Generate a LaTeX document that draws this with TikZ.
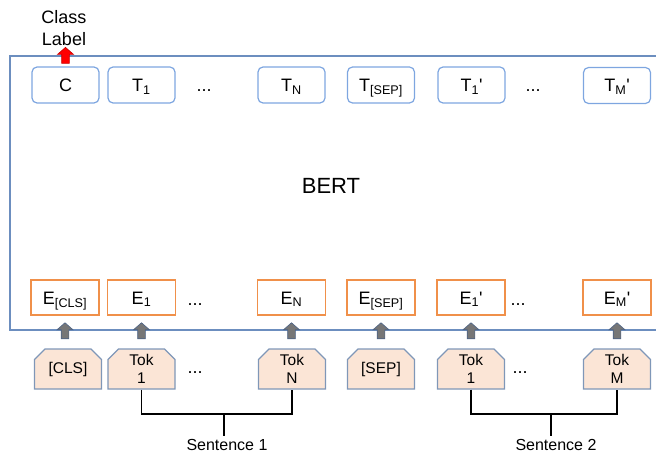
\documentclass[tikz,border=0pt]{standalone}
\usepackage{fontspec}
\setmainfont{Liberation Sans}
\usetikzlibrary{calc,shapes.misc}
\definecolor{frameblue}{HTML}{6C8EBF}
\definecolor{tblue}{HTML}{7EA6E0}
\definecolor{eorange}{HTML}{F0904A}
\definecolor{tokfill}{HTML}{FBE5D6}
\definecolor{tokdraw}{HTML}{7F97B8}
\definecolor{arrowgray}{HTML}{767676}
\definecolor{arrowred}{HTML}{FF0000}
% fat upward arrow whose tip is at #1
\newcommand\fatup[2]{\filldraw[#2] (#1) -- ++(8,7) -- ++(-4.2,0) -- ++(0,9) -- ++(-7.6,0) -- ++(0,-9) -- ++(-4.2,0) -- cycle;}
\begin{document}
\begin{tikzpicture}[x=1pt,y=-1pt,
  every node/.style={font=\fontsize{18}{21}\selectfont},
  tbox/.style={draw=tblue, line width=1.2pt, rounded corners=5pt, minimum width=67pt, minimum height=36pt, inner sep=0pt, text height=13pt, text depth=0pt},
  ebox/.style={draw=eorange, line width=1.5pt, minimum width=68pt, minimum height=35pt, inner sep=0pt, text height=13pt, text depth=0pt},
  tokbox/.style={chamfered rectangle, chamfered rectangle corners={north west,north east}, chamfered rectangle xsep=7pt, draw=tokdraw, fill=tokfill, line width=1.2pt, minimum width=67pt, minimum height=40pt, inner sep=0pt, align=center, font=\fontsize{15.5}{17.5}\selectfont},
  dots/.style={anchor=base, inner sep=0pt},
  grayarrow/.style={fill=arrowgray, draw=frameblue!70!black, line width=0.6pt},
  redarrow/.style={fill=arrowred, draw=arrowred!80!black, line width=0.6pt},
  bracket/.style={draw=black, line width=1.1pt},
  frame/.style={draw=frameblue, line width=1.6pt},
  sentence/.style={font=\fontsize{16}{19}\selectfont, inner sep=0pt}
]
\useasboundingbox (0,0) rectangle (656,457);
% BERT frame
\draw[frame] (656,56) -- (10,56) -- (10,330) -- (656,330);
\node (bert) at (331,186) {\fontsize{22}{26}\selectfont BERT};

% output row
\node[tbox] (c)    at (65.5,85) {C};
\node[tbox] (t1)   at (141.5,85) {T\textsubscript{1}};
\node[tbox] (tn)   at (291.5,85) {T\textsubscript{N}};
\node[tbox] (tsep) at (381,85) {T\textsubscript{[SEP]}};
\node[tbox] (t1p)  at (471.5,85) {T\textsubscript{1}\textquotesingle};
\node[tbox] (tmp)  at (617,85.5) {T\textsubscript{M}\textquotesingle};
\node[dots] (d1) at (204,92) {...};
\node[dots] (d2) at (533,92) {...};

% embedding row
\node[ebox] (ecls) at (65,297.5) {E\textsubscript{[CLS]}};
\node[ebox] (e1)   at (141.5,297.5) {E\textsubscript{1}};
\node[ebox] (en)   at (291.5,297.5) {E\textsubscript{N}};
\node[ebox] (esep) at (381,297.5) {E\textsubscript{[SEP]}};
\node[ebox] (e1p)  at (471,297.5) {E\textsubscript{1}\textquotesingle};
\node[ebox] (emp)  at (617,297.5) {E\textsubscript{M}\textquotesingle};
\node[dots] (d3) at (195,305) {...};
\node[dots] (d4) at (518,305) {...};

% token row
\node[tokbox] (kcls) at (68,369) {[CLS]};
\node[tokbox] (k1)   at (141.5,369) {Tok\\1};
\node[tokbox] (kn)   at (292,369) {Tok\\N};
\node[tokbox] (ksep) at (381,369) {[SEP]};
\node[tokbox] (k1p)  at (471,369) {Tok\\1};
\node[tokbox] (km)   at (617,369) {Tok\\M};
\node[dots] (d5) at (195,373) {...};
\node[dots] (d6) at (520,373) {...};

% gray arrows token -> embedding
\foreach \e in {ecls,e1,en,esep,e1p,emp}{
  \coordinate (tip-\e) at ($(\e.south)+(0,7)$);
  \fatup{tip-\e}{grayarrow}
}

% class label
\node[align=center, inner sep=0pt, font=\fontsize{18}{22}\selectfont] (cl) at (64,28) {Class\\Label};
\coordinate (tip-c) at ($(c.north)+(0,-19)$);
\fatup{tip-c}{redarrow}

% sentence brackets
\coordinate (b1) at (224,414);
\coordinate (b2) at (551,414);
\node[sentence] (s1) at (227,445) {Sentence 1};
\node[sentence] (s2) at (556,445) {Sentence 2};
\draw[bracket] (k1.south) |- (b1) -| (kn.south);
\draw[bracket] (b1) -- ($(b1 |- s1.north)+(0,-3)$);
\draw[bracket] (k1p.south) |- (b2) -| (km.south);
\draw[bracket] (b2) -- ($(b2 |- s2.north)+(0,-3)$);
\end{tikzpicture}
\end{document}
